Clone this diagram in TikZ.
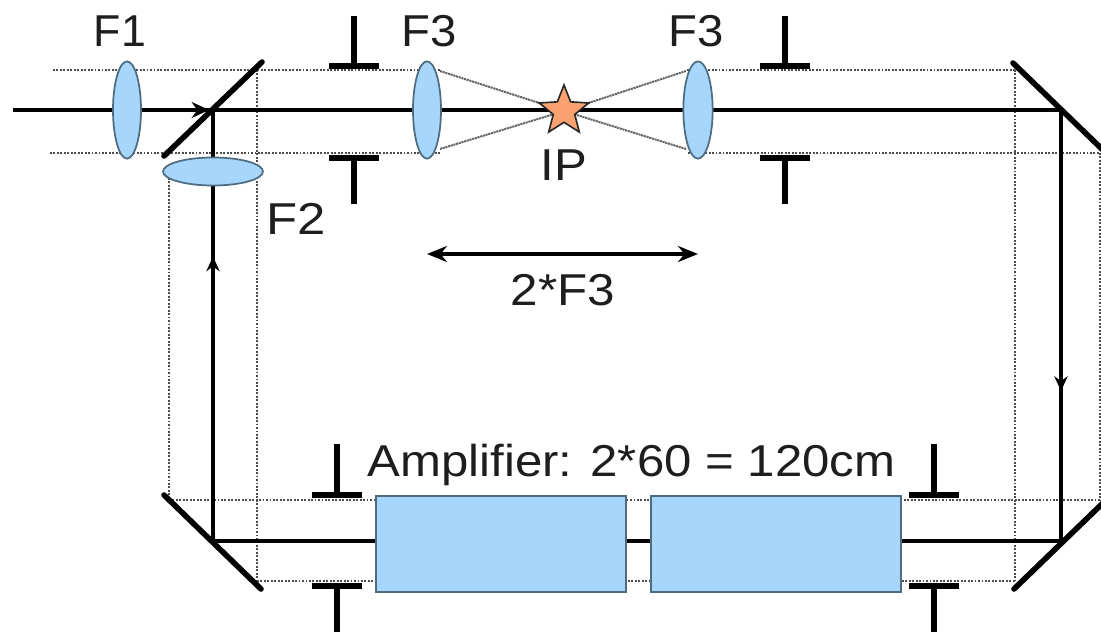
\documentclass[tikz,border=0pt]{standalone}
\usepackage{fontspec}
\setmainfont{Liberation Sans}
\usetikzlibrary{shapes.geometric,arrows.meta,backgrounds,decorations.markings}
\definecolor{lensblue}{HTML}{A6D6FB}
\definecolor{lensedge}{HTML}{4F6B80}
\definecolor{starfill}{HTML}{F9A26F}
\definecolor{txt}{HTML}{1E1E1E}
\tikzset{
  x=0.75pt,y=-0.75pt,
  lens/.style={ellipse,draw=lensedge,line width=1.3pt,fill=lensblue,inner sep=0pt,minimum width=21pt,minimum height=73pt},
  lensflat/.style={lens,minimum width=75pt,minimum height=21pt},
  ampbox/.style={rectangle,draw=lensedge,line width=1.2pt,fill=lensblue,inner sep=0pt,minimum width=187.5pt,minimum height=72pt},
  beam/.style={line width=2.4pt,black},
  edge/.style={line width=1.6pt,black!70,dash pattern=on 1.4pt off 1.2pt},
  conv/.style={line width=1.5pt,black!60,dash pattern=on 1.6pt off 0.5pt},
  mirror/.style={line width=4.2pt,black,line cap=round},
  stop/.style={line width=4.2pt,black},
  lbl/.style={font=\fontsize{33.5}{36}\selectfont,text=txt,inner sep=0pt},
  midup/.style={postaction={decorate},decoration={markings,mark=at position #1 with {\arrow{Stealth[length=11pt,width=10pt]}}}}
}
\newcommand{\wide}[2]{\scalebox{#1}[1]{#2}}
\begin{document}
\begin{tikzpicture}
\useasboundingbox (0,0) rectangle (1101,632);
% named points
\coordinate (beamIn) at (13,110);
\coordinate (mA) at (213,110);
\coordinate (mB) at (1061,110);
\coordinate (mC) at (1061,541);
\coordinate (mD) at (213,541);
\coordinate (tL) at (53,70); \coordinate (bL) at (50,153);
\coordinate (tR) at (1015,70); \coordinate (bR) at (1100,153);
\coordinate (tV) at (257,70);
\coordinate (bVa) at (169,171);
\coordinate (bVb) at (169,497);
\coordinate (tVb) at (257,581);
\coordinate (lowTL) at (169,500);
\coordinate (lowBL) at (257,581);
\coordinate (lowTR) at (1100,500);
\coordinate (lowBR) at (1015,581);
\coordinate (a1) at (427,254); \coordinate (a2) at (698,254);
% optics
\node[lens] (F1) at (127,110) {};
\node[lensflat] (F2) at (213,171.5) {};
\node[lens] (F3a) at (427,110) {};
\node[lens,minimum width=22pt] (F3b) at (698,110) {};
\node[star,star points=5,star point ratio=2.3,draw=black!85,line width=1.2pt,fill=starfill,minimum size=39pt,inner sep=0pt] (IP) at (564,111) {};
\node[ampbox] (A1) at (501,544) {};
\node[ampbox] (A2) at (776,544) {};
% connectors
\begin{pgfonlayer}{background}
\draw[edge] (tL) -- (tR);
\draw[edge] (bL) -- (bR);
\draw[edge] (tV) -- (tVb);
\draw[edge] (bVa) -- (bVb);
\draw[edge] (tR) -- (lowBR);
\draw[edge] (bR) -- (lowTR);
\draw[edge] (lowTL) -- (lowTR);
\draw[edge] (lowBL) -- (lowBR);
\fill[white] (440,60) rectangle (686,160);
\draw[conv] (440,71) -- (IP.center);
\draw[conv] (440,149) -- (IP.center);
\draw[conv] (686,71) -- (IP.center);
\draw[conv] (686,149) -- (IP.center);
\draw[beam] (beamIn) -- (mA) -- (mB);
\draw[beam] (mC) -- (mD);
\draw[beam,midup=0.66] (mD) -- (mA);
\draw[beam,midup=0.652] (mB) -- (mC);
\end{pgfonlayer}
\draw[black,line width=2pt,-{Stealth[length=13pt,width=12pt]}] (190,110) -- (209,110);
% mirrors
\coordinate (M1a) at (164,156); \coordinate (M1b) at (262,62);
\coordinate (M2a) at (1013,63); \coordinate (M2b) at (1104,151);
\coordinate (M3a) at (164,495); \coordinate (M3b) at (261,589);
\coordinate (M4a) at (1014,589); \coordinate (M4b) at (1104,502);
\draw[mirror] (M1a) -- (M1b);
\draw[mirror] (M2a) -- (M2b);
\draw[mirror] (M3a) -- (M3b);
\draw[mirror] (M4a) -- (M4b);
% stops
\foreach \n/\x/\ty/\ts/\by/\bs in {s1/354/66/16/158/204, s2/785/66/16/158/204, s3/337/495/444/586/632, s4/934/495/444/586/632}{
  \coordinate (\n ta) at (\x-25,\ty); \coordinate (\n tb) at (\x+25,\ty);
  \coordinate (\n tm) at (\x,\ty); \coordinate (\n tt) at (\x,\ts);
  \coordinate (\n ba) at (\x-25,\by); \coordinate (\n bb) at (\x+25,\by);
  \coordinate (\n bm) at (\x,\by); \coordinate (\n be) at (\x,\bs);
  \draw[stop] (\n ta) -- (\n tb);
  \draw[stop] (\n tm) -- (\n tt);
  \draw[stop] (\n ba) -- (\n bb);
  \draw[stop] (\n bm) -- (\n be);
}
% span arrow
\draw[line width=2.4pt,{Stealth[length=15pt,width=12pt]}-{Stealth[length=15pt,width=12pt]}] (a1) -- (a2);
% labels
\node[lbl] (tF1) at (120,31) {F1};
\node[lbl] (tF3a) at (429,31) {\wide{1.06}{F3}};
\node[lbl] (tF3b) at (696,31) {\wide{1.06}{F3}};
\node[lbl] (tIP) at (564,165) {\wide{1.1}{IP}};
\node[lbl] (tF2) at (296,219) {\wide{1.14}{F2}};
\node[lbl] (tSpan) at (563,290) {\wide{1.106}{2*F3}};
\node[lbl] (tAmp) at (631.5,465) {\wide{1.10}{Amplifier: 2*60 = 120cm}};
\end{tikzpicture}
\end{document}
